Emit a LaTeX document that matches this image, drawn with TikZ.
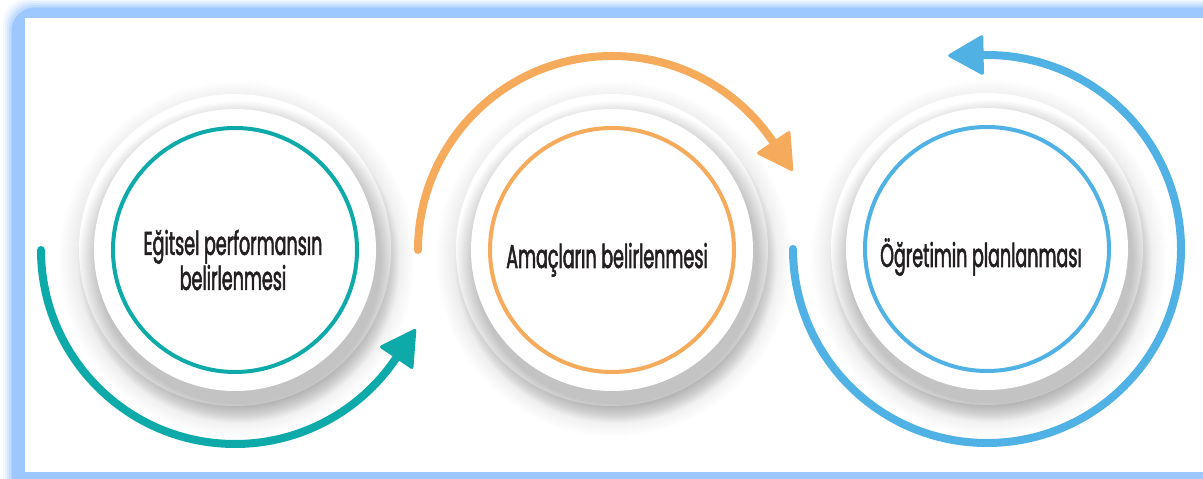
\documentclass[tikz,border=0pt]{standalone}
\usepackage{fontspec}
\setmainfont{Poppins}[FakeStretch=0.53,FakeBold=1.6]
\usetikzlibrary{calc}
\definecolor{tealc}{RGB}{14,170,170}
\definecolor{orangec}{RGB}{246,170,92}
\definecolor{bluec}{RGB}{80,177,228}
\definecolor{frameblue}{RGB}{156,199,255}
\definecolor{txt}{RGB}{35,31,32}
\tikzset{
  ring/.style={circle, draw=#1, line width=4pt, minimum size=244pt, inner sep=0pt},
  arcline/.style={draw=#1, line width=8pt, line cap=round},
  headfill/.style={fill=#1, rounded corners=3pt},
  lbl/.style={text=txt, font=\fontsize{33}{28}\selectfont, align=center, inner sep=0pt},
}
\newcommand{\myhalo}[5]{%
  \foreach \k in {1,...,#3}{\fill[black,opacity=#4] ($(#1)+(#5)$) circle[radius=#2+\k];}%
  \fill[white] (#1) circle[radius=#2];}
\begin{document}
\begin{tikzpicture}[x=1pt,y=1pt]
\useasboundingbox (0,0) rectangle (1203,479);
% frame
\fill[white] (0,0) rectangle (1203,479);
\foreach \k/\o in {9/0.10,7/0.15,5/0.22,3/0.32,1/0.45}{
  \fill[frameblue,opacity=\o,rounded corners=24] (12-\k,-40) rectangle (1250,471+\k);}
\fill[frameblue,rounded corners=22] (12,-40) rectangle (1250,471);
\fill[white] (25,7) rectangle (1210,461);
% centres
\coordinate (p1) at (235,229);
\coordinate (p2) at (612,229);
\coordinate (p3) at (987,230);
% halos
\foreach \p in {p1,p2,p3}{
  \myhalo{\p}{156}{22}{0.0045}{2,-9}
  \myhalo{\p}{141}{20}{0.010}{4,-12}
}
% rings
\node[ring=tealc] (c1) at (p1) {};
\node[ring=orangec] (c2) at (p2) {};
\node[ring=bluec] (c3) at (p3) {};
% labels
\node[lbl] (t1) at ($(c1.center)+(-2,-10)$) {Eğitsel performansın\\belirlenmesi};
\node[lbl,anchor=base] (t2) at ($(c2.center)+(-5,-18)$) {Amaçların belirlenmesi};
\node[lbl,anchor=base] (t3) at ($(c3.center)+(-6,-18)$) {Öğretimin planlanması};
% arcs
\draw[arcline=tealc] ($(c1.center)+(180:194)$) arc[start angle=180,end angle=326,radius=194] coordinate (e1);
\fill[headfill=tealc] ($(c1.center)+(326:215)$) -- ($(c1.center)+(326:173)$) -- ($(e1)+(56:37)$) -- cycle;
\draw[arcline=orangec] ($(c2.center)+(180:194)$) arc[start angle=180,end angle=34,radius=194] coordinate (e2);
\fill[headfill=orangec] ($(c2.center)+(34:215)$) -- ($(c2.center)+(34:173)$) -- ($(e2)+(-56:37)$) -- cycle;
\draw[arcline=bluec] ($(c3.center)+(180:194)$) arc[start angle=180,end angle=451,radius=194] coordinate (e3);
\fill[headfill=bluec] ($(c3.center)+(91:215)$) -- ($(c3.center)+(91:173)$) -- ($(e3)+(181:37)$) -- cycle;
\end{tikzpicture}
\end{document}
